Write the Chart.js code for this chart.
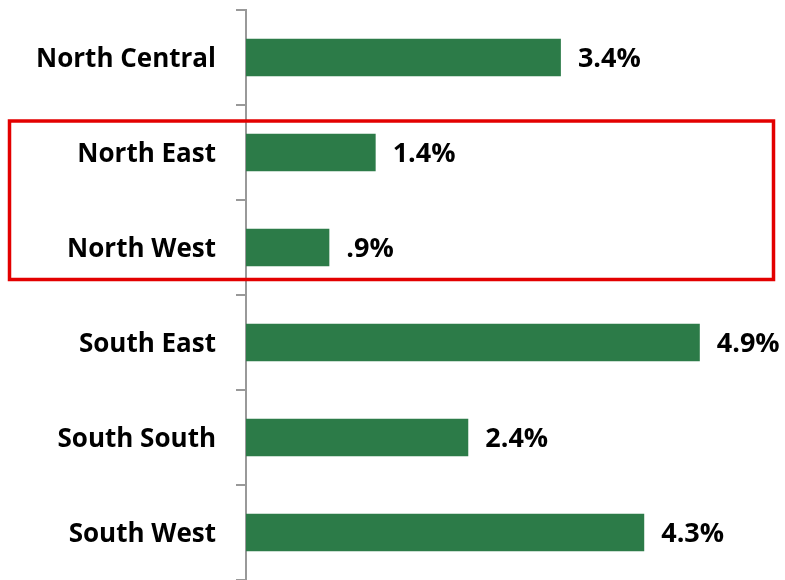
<!DOCTYPE html>
<html>
<head>
<meta charset="utf-8">
<script src="https://cdn.jsdelivr.net/npm/chart.js@4/dist/chart.umd.min.js"></script>
<style>
  html, body { margin: 0; padding: 0; background: #fff; }
  #wrap { width: 785px; height: 580px; }
</style>
</head>
<body>
<div id="wrap"><canvas id="myChart"></canvas></div>
<script>
// data
const regions = ['North Central', 'North East', 'North West', 'South East', 'South South', 'South West'];
const growth = [3.4, 1.4, 0.9, 4.9, 2.4, 4.3];
const growthLabels = ['3.4%', '1.4%', '.9%', '4.9%', '2.4%', '4.3%'];
const highlighted = [1, 2]; // rows inside the red box

const barGreen = '#2c7b48';
const fontFace = '"Open Sans", "Liberation Sans", sans-serif';

// value labels to the right of each bar
const valueLabels = {
  id: 'valueLabels',
  afterDatasetsDraw(chart) {
    const ctx = chart.ctx;
    const meta = chart.getDatasetMeta(0);
    ctx.save();
    ctx.font = 'bold 27px ' + fontFace;
    ctx.fillStyle = '#000';
    ctx.textAlign = 'left';
    ctx.textBaseline = 'middle';
    meta.data.forEach((bar, i) => {
      ctx.fillText(growthLabels[i], bar.x + 17, bar.y + 2);
    });
    ctx.restore();
  }
};

// red box round the highlighted rows
const highlightBox = {
  id: 'highlightBox',
  afterDraw(chart) {
    const y = chart.scales.y;
    const top = y.getPixelForValue(highlighted[0]) - 31.5;
    const bottom = y.getPixelForValue(highlighted[highlighted.length - 1]) + 32;
    const ctx = chart.ctx;
    ctx.save();
    ctx.strokeStyle = '#e30000';
    ctx.lineWidth = 3.5;
    ctx.strokeRect(9.5, top, 764, bottom - top);
    ctx.restore();
  }
};

const data = {
  labels: regions,
  datasets: [{
    data: growth,
    backgroundColor: barGreen,
    borderWidth: 0,
    barPercentage: 0.395,
    categoryPercentage: 1
  }]
};

const config = {
  type: 'bar',
  data: data,
  options: {
    indexAxis: 'y',
    responsive: true,
    maintainAspectRatio: false,
    animation: false,
    layout: { padding: { top: 10, bottom: 0, left: 0, right: 0 } },
    plugins: {
      legend: { display: false },
      tooltip: { enabled: false }
    },
    scales: {
      x: {
        display: false,
        min: 0,
        max: 5.82
      },
      y: {
        afterFit(scale) {
          scale.width = 246;
          scale.paddingTop = 0;
          scale.paddingBottom = 0;
        },
        border: { display: true, color: '#999', width: 2 },
        grid: {
          drawOnChartArea: false,
          drawTicks: true,
          tickLength: 10,
          color: '#999',
          lineWidth: 2
        },
        ticks: {
          padding: 20,
          labelOffset: 2,
          color: '#000',
          font: { family: fontFace, size: 26, weight: 'bold' }
        }
      }
    }
  },
  plugins: [valueLabels, highlightBox]
};

const myChart = new Chart(document.getElementById('myChart').getContext('2d'), config);
</script>
</body>
</html>
